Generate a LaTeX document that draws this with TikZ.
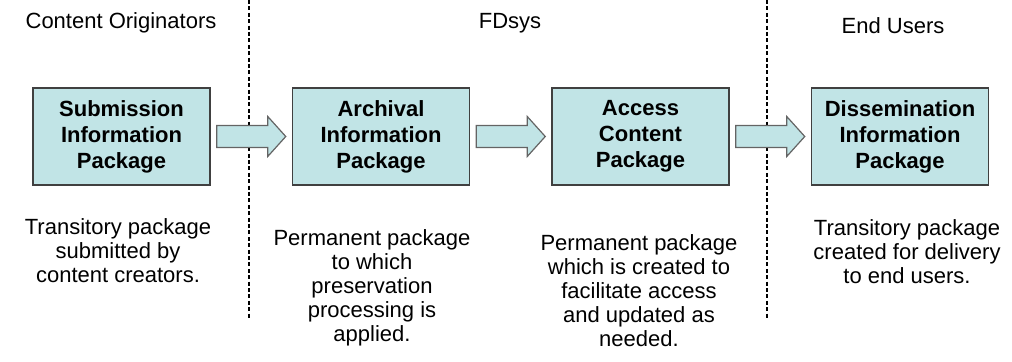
\documentclass[tikz,border=0pt]{standalone}
\usepackage{fontspec}
\setmainfont{Liberation Sans}
\usepackage{tikz}
\usetikzlibrary{calc}

\definecolor{pkgfill}{RGB}{193,228,230}
\definecolor{pkgline}{RGB}{64,64,64}
\definecolor{arrowline}{RGB}{100,100,100}

\tikzset{
	pkgbox/.style={draw=pkgline, fill=pkgfill, line width=0.75pt, minimum width=88.5pt, minimum height=48.5pt, inner sep=0pt, align=center, font=\fontsize{11}{13}\selectfont\bfseries},
	blockarrow/.style={draw=arrowline, fill=pkgfill, line width=0.6pt, line join=miter},
	divider/.style={dash pattern=on 2pt off 1.2pt, line width=0.65pt},
	heading/.style={font=\fontsize{11}{12}\selectfont},
	note/.style={align=center, inner sep=0pt, font=\fontsize{11}{12}\selectfont}
}

\begin{document}
\begin{tikzpicture}[x=0.5pt,y=-0.5pt]
	\useasboundingbox (0,0) rectangle (1012,362);
	
	%dividers
	\coordinate (d1top) at (249,0);
	\coordinate (d1bot) at (249,318);
	\coordinate (d2top) at (767,0);
	\coordinate (d2bot) at (767,318);
	\draw[divider] (d1top)--(d1bot);
	\draw[divider] (d2top)--(d2bot);
	
	%headings
	\node[heading] (hco) at (121,23) {Content Originators};
	\node[heading] (hfd) at (510,23) {FDsys};
	\node[heading] (heu) at (893,26) {End Users};
	
	%packages
	\node[pkgbox] (sip) at (121.5,136.5) {Submission\\Information\\Package};
	\node[pkgbox] (aip) at (381,136.5)   {Archival\\Information\\Package};
	\node[pkgbox] (acp) at (640.5,136.5) {Access\\Content\\Package};
	\node[pkgbox] (dip) at (900,136.5)   {Dissemination\\Information\\Package};
	
	%arrows
	\draw[blockarrow] ($(sip.east)+(6,-11)$) -- ++(51,0) -- ++(0,-9) -- ++(18,20) -- ++(-18,20) -- ++(0,-9) -- ++(-51,0) -- cycle;
	\draw[blockarrow] ($(aip.east)+(6,-11)$) -- ++(51,0) -- ++(0,-9) -- ++(18,20) -- ++(-18,20) -- ++(0,-9) -- ++(-51,0) -- cycle;
	\draw[blockarrow] ($(acp.east)+(6,-11)$) -- ++(51,0) -- ++(0,-9) -- ++(18,20) -- ++(-18,20) -- ++(0,-9) -- ++(-51,0) -- cycle;
	
	%notes
	\node[note] (nsip) at (118,251) {Transitory package\\submitted by\\content creators.};
	\node[note] (naip) at (372,288) {Permanent package\\to which\\preservation\\processing is\\applied.};
	\node[note] (nacp) at (639,291) {Permanent package\\which is created to\\facilitate access\\and updated as\\needed.};
	\node[note] (ndip) at (907,252) {Transitory package\\created for delivery\\to end users.};
\end{tikzpicture}
\end{document}
